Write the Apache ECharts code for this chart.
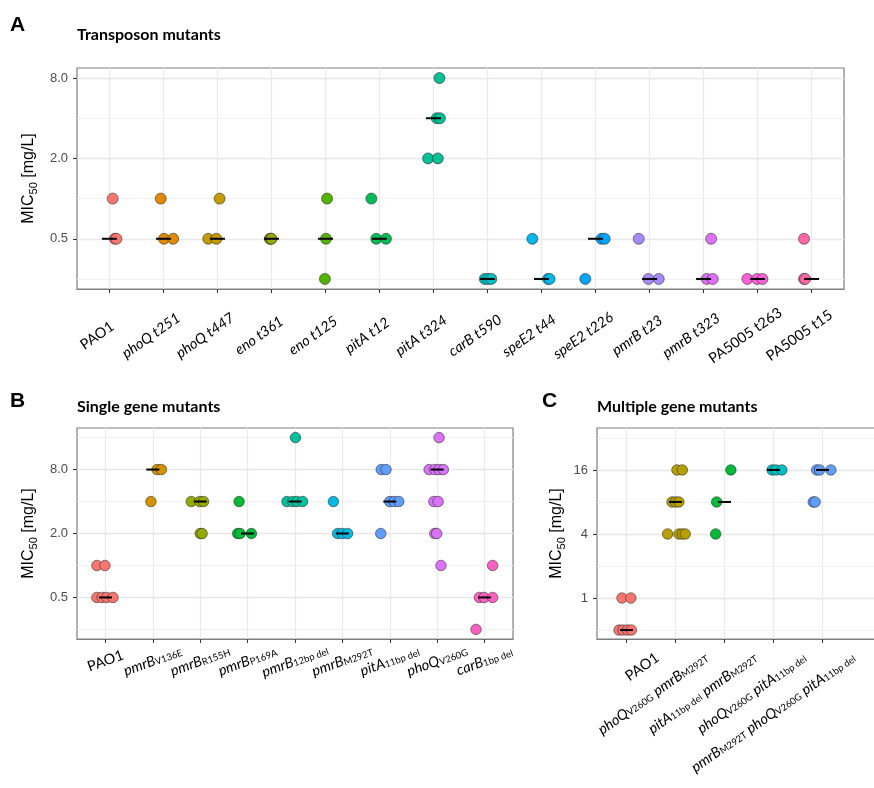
<!DOCTYPE html>
<html>
<head>
<meta charset="utf-8">
<script src="https://cdn.jsdelivr.net/npm/echarts@6/dist/echarts.min.js"></script>
<style>
  html, body { margin: 0; padding: 0; background: #fff; }
  #chart { width: 874px; height: 788px; }
</style>
</head>
<body>
<div id="chart"></div>
<script>
// ---- Panel A: transposon mutants (MIC50, mg/L, one value per replicate) ----
const labelsA = ['{n|PAO1}', '{i|phoQ t251}', '{i|phoQ t447}', '{i|eno t361}', '{i|eno t125}',
  '{i|pitA t12}', '{i|pitA t324}', '{i|carB t590}', '{i|speE2 t44}', '{i|speE2 t226}',
  '{i|pmrB t23}', '{i|pmrB t323}', '{n|PA5005 t263}', '{n|PA5005 t15}'];
const micA = [
  [1, 0.5, 0.5], [1, 0.5, 0.5], [1, 0.5, 0.5], [0.5, 0.5, 0.5], [1, 0.5, 0.25],
  [1, 0.5, 0.5], [8, 4, 4, 2, 2], [0.25, 0.25, 0.25], [0.5, 0.25, 0.25], [0.25, 0.5, 0.5],
  [0.5, 0.25, 0.25], [0.5, 0.25, 0.25], [0.25, 0.25, 0.25], [0.5, 0.25, 0.25]
];
const medianA = [0.5, 0.5, 0.5, 0.5, 0.5, 0.5, 4, 0.25, 0.25, 0.5, 0.25, 0.25, 0.25, 0.25];
// horizontal jitter of each replicate, in category units
const jitterA = [
  [0.06, 0.10, 0.13], [-0.05, 0.01, 0.18], [0.04, -0.17, -0.02], [-0.03, -0.01, 0.0], [0.03, 0.01, -0.01],
  [-0.15, -0.06, 0.12], [0.11, 0.06, 0.12, -0.10, 0.08], [-0.05, 0.01, 0.07], [-0.17, 0.12, 0.15], [-0.19, 0.11, 0.17],
  [-0.20, -0.02, 0.17], [0.14, 0.06, 0.17], [-0.19, -0.01, 0.09], [-0.14, -0.14, -0.12]
];
const gridTicksA = [0.25, 0.5, 1, 2, 4, 8];
const labelTicksA = [0.5, 2, 8];

// ---- Panel B: single gene mutants ----
const labelsB = ['{n|PAO1}', '{i|pmrB}{s|V136E}', '{i|pmrB}{s|R155H}', '{i|pmrB}{s|P169A}', '{i|pmrB}{s|12bp del}',
  '{i|pmrB}{s|M292T}', '{i|pitA}{s|11bp del}', '{i|phoQ}{s|V260G}', '{i|carB}{s|1bp del}'];
const micB = [
  [1, 1, 0.5, 0.5, 0.5, 0.5], [8, 8, 4], [4, 4, 4, 2, 2], [4, 2, 2, 2], [16, 4, 4, 4, 4],
  [4, 2, 2, 2], [8, 8, 4, 4, 4, 2], [16, 8, 8, 8, 8, 4, 4, 2, 2, 1], [1, 0.5, 0.5, 0.5, 0.25]
];
const medianB = [0.5, 8, 4, 2, 4, 2, 4, 8, 0.5];
const jitterB = [
  [-0.18, -0.01, -0.18, -0.07, 0.03, 0.16], [0.09, 0.18, -0.04], [-0.19, -0.01, 0.07, 0.0, 0.04],
  [-0.18, -0.21, -0.16, 0.08], [0.01, -0.17, -0.05, 0.04, 0.16], [-0.19, -0.10, 0.0, 0.11],
  [-0.18, -0.08, 0.0, 0.09, 0.19, -0.19], [0.04, -0.17, -0.05, 0.04, 0.13, -0.07, 0.02, -0.05, -0.01, 0.08],
  [0.17, -0.11, -0.01, 0.17, -0.18]
];
const gridTicksB = [0.25, 0.5, 1, 2, 4, 8, 16];
const labelTicksB = [0.5, 2, 8];

// ---- Panel C: multiple gene mutants ----
const labelsC = ['{n|PAO1}', '{i|phoQ}{s|V260G} {i|pmrB}{s|M292T}', '{i|pitA}{s|11bp del} {i|pmrB}{s|M292T}',
  '{i|phoQ}{s|V260G} {i|pitA}{s|11bp del}', '{i|pmrB}{s|M292T} {i|phoQ}{s|V260G} {i|pitA}{s|11bp del}'];
const micC = [
  [1, 1, 0.5, 0.5, 0.5, 0.5], [16, 16, 8, 8, 8, 4, 4, 4, 4], [16, 8, 4], [16, 16, 16], [16, 16, 16, 8, 8]
];
const medianC = [0.5, 8, 8, 16, 16];
const jitterC = [
  [-0.09, 0.09, -0.15, -0.07, 0.02, 0.10], [0.03, 0.14, -0.07, 0.0, 0.07, -0.16, 0.07, 0.14, 0.20],
  [0.13, -0.16, -0.18], [-0.03, 0.05, 0.17], [-0.12, -0.06, 0.17, -0.19, -0.15]
];
const gridTicksC = [0.5, 1, 2, 4, 8, 16, 32];
const labelTicksC = [1, 4, 16];

// ggplot hue palettes
const colorsA = ['#F8766D', '#E38900', '#C49A00', '#99A800', '#53B400', '#00BC56', '#00C094',
  '#00BFC4', '#00B6EB', '#06A4FF', '#A58AFF', '#DF70F8', '#FB61D7', '#FF66A8'];
const colorsB = ['#F8766D', '#D39200', '#93AA00', '#00BA38', '#00C19F', '#00B9E3', '#619CFF', '#DB72FB', '#FF61C3'];
const colorsC = ['#F8766D', '#B79F00', '#00BA38', '#00BFC4', '#619CFF'];

const font = 'Lato, "Open Sans", sans-serif';
const tickFont = '"Liberation Sans", Arial, sans-serif';
const log2 = v => Math.log(v) / Math.LN2;

// small line heights keep the rotated label boxes from "overlapping"
const richX = {
  n: { fontFamily: font, fontSize: 14.5, lineHeight: 14, color: '#000', verticalAlign: 'middle' },
  i: { fontFamily: font, fontSize: 14.5, lineHeight: 14, color: '#000', fontStyle: 'italic', verticalAlign: 'middle' },
  s: { fontFamily: font, fontSize: 9.5, lineHeight: 4, color: '#000', verticalAlign: 'bottom' }
};

function xAxisFor(grid, labels, slots, extra) {
  const idx = labels.map((_, i) => i);
  return {
    type: 'value', gridIndex: grid, min: -0.6, max: slots - 0.4,
    axisLine: { show: true, onZero: false, lineStyle: { color: '#7F7F7F', width: 1.2 } },
    axisTick: { show: true, customValues: idx, length: 4, lineStyle: { color: '#333', width: 1 } },
    axisLabel: Object.assign({
      customValues: idx,
      formatter: v => labels[Math.round(v)],
      showMinLabel: true, showMaxLabel: true, hideOverlap: false,
      fontFamily: font, fontSize: 14.5, lineHeight: 14, color: '#000', rich: richX
    }, extra),
    splitLine: { show: true, lineStyle: { color: '#EBEBEB', width: 1.2 } }
  };
}

function yAxesFor(grid, range, gridTicks, labelTicks, fmt, nameGap) {
  return [
    {
      type: 'value', gridIndex: grid, min: range[0], max: range[1], position: 'left',
      axisLine: { show: false, onZero: false },
      axisTick: { show: false, customValues: gridTicks.map(log2) },
      axisLabel: { show: false },
      splitLine: { show: true, lineStyle: { color: '#F2F2F2', width: 1 } }
    },
    {
      type: 'value', gridIndex: grid, min: range[0], max: range[1], position: 'left',
      axisLine: { show: false, onZero: false },
      axisTick: { show: true, customValues: labelTicks.map(log2), length: 4, lineStyle: { color: '#333', width: 1 } },
      axisLabel: {
        customValues: labelTicks.map(log2), formatter: fmt, margin: 9,
        showMinLabel: true, showMaxLabel: true,
        color: '#4D4D4D', fontSize: 13, fontFamily: tickFont
      },
      splitLine: { show: true, lineStyle: { color: '#E8E8E8', width: 1.3 } },
      name: '{a|MIC}{b|50}{a| [mg/L]}',
      nameLocation: 'middle', nameRotate: 90, nameGap: nameGap,
      nameTextStyle: {
        rich: {
          a: { fontFamily: tickFont, fontSize: 16, lineHeight: 20, color: '#000', verticalAlign: 'middle' },
          b: { fontFamily: tickFont, fontSize: 11, lineHeight: 11, color: '#000', verticalAlign: 'bottom' }
        }
      }
    }
  ];
}

function pointSeries(axis, mic, jit, colors, size) {
  const data = [];
  mic.forEach((vals, i) => vals.forEach((v, k) => {
    data.push({ value: [i + jit[i][k], log2(v)], itemStyle: { color: colors[i] } });
  }));
  return {
    type: 'scatter', xAxisIndex: axis, yAxisIndex: axis * 2 + 1, data: data,
    symbolSize: size, z: 3, silent: true,
    itemStyle: { borderColor: 'rgba(40,40,40,0.7)', borderWidth: 0.8, opacity: 1 }
  };
}

function medianSeries(axis, med, w) {
  return {
    type: 'scatter', xAxisIndex: axis, yAxisIndex: axis * 2 + 1,
    data: med.map((m, i) => [i, log2(m)]),
    symbol: 'rect', symbolSize: [w, 2], z: 4, silent: true,
    itemStyle: { color: '#000', opacity: 1 }
  };
}

const gridStyle = { show: true, borderColor: '#7F7F7F', borderWidth: 1.2, backgroundColor: '#fff',
  containLabel: false, outerBoundsMode: 'none' };
const fmt1 = v => Math.pow(2, v).toFixed(1);
const fmt0 = v => String(Math.round(Math.pow(2, v)));

const titleStyle = { fontFamily: font, fontWeight: 'bold', fontSize: 16, color: '#000' };
const letterStyle = { fontFamily: tickFont, fontWeight: 'bold', fontSize: 21, color: '#000' };

const chart = echarts.init(document.getElementById('chart'), null, { renderer: 'canvas' });
chart.setOption({
  backgroundColor: '#fff',
  animation: false,
  title: [
    { text: 'A', left: 10, top: 15, padding: 0, textStyle: letterStyle },
    { text: 'Transposon mutants', left: 77, top: 27, padding: 0, textStyle: titleStyle },
    { text: 'B', left: 10, top: 391, padding: 0, textStyle: letterStyle },
    { text: 'Single gene mutants', left: 77, top: 399, padding: 0, textStyle: titleStyle },
    { text: 'C', left: 542, top: 391, padding: 0, textStyle: letterStyle },
    { text: 'Multiple gene mutants', left: 597, top: 399, padding: 0, textStyle: titleStyle }
  ],
  grid: [
    Object.assign({ left: 77, top: 68, width: 767, height: 221 }, gridStyle),
    Object.assign({ left: 77, top: 428, width: 436, height: 211 }, gridStyle),
    Object.assign({ left: 597, top: 428, width: 304, height: 211 }, gridStyle)
  ],
  xAxis: [
    xAxisFor(0, labelsA, labelsA.length,
      { rotate: 35, align: 'center', verticalAlign: 'middle', margin: 38, padding: [0, 30, 0, 0] }),
    xAxisFor(1, labelsB, labelsB.length,
      { rotate: 20, align: 'center', verticalAlign: 'middle', margin: 22 }),
    xAxisFor(2, labelsC, 6,
      { rotate: 35, align: 'right', verticalAlign: 'middle', margin: 39, padding: [0, -38, 0, 0] })
  ],
  yAxis: [
    ...yAxesFor(0, [-2.25, 3.25], gridTicksA, labelTicksA, fmt1, 38),
    ...yAxesFor(1, [-2.3, 4.3], gridTicksB, labelTicksB, fmt1, 38),
    ...yAxesFor(2, [-1.28, 5.31], gridTicksC, labelTicksC, fmt0, 30)
  ],
  series: [
    pointSeries(0, micA, jitterA, colorsA, 11),
    medianSeries(0, medianA, 15),
    pointSeries(1, micB, jitterB, colorsB, 10.5),
    medianSeries(1, medianB, 13),
    pointSeries(2, micC, jitterC, colorsC, 10.5),
    medianSeries(2, medianC, 13)
  ]
});
</script>
</body>
</html>
